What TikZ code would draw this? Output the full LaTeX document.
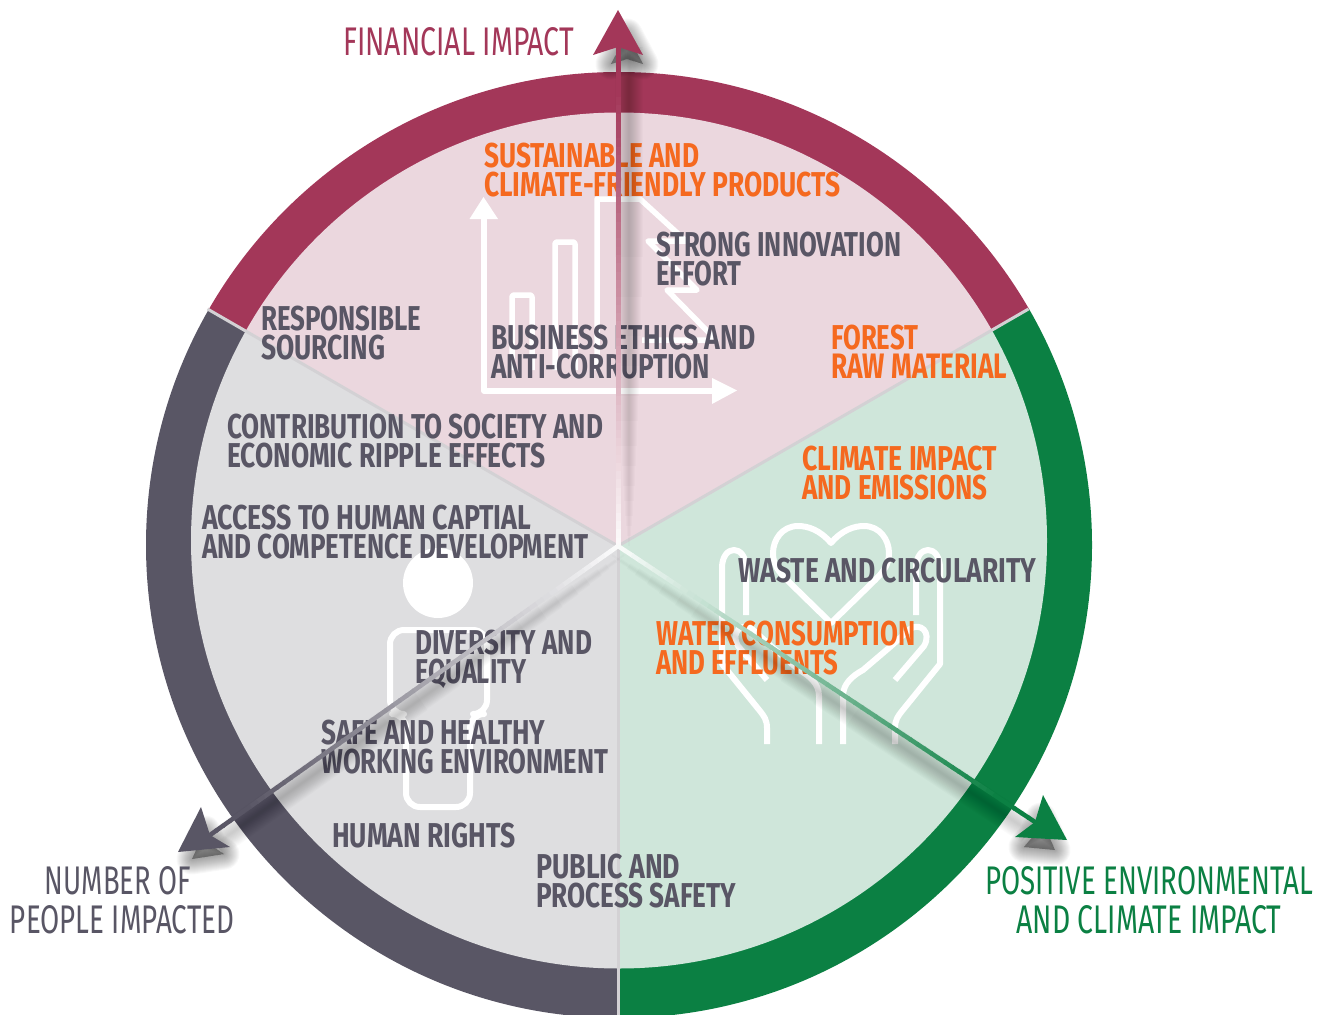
\documentclass[tikz,border=0pt]{standalone}
\usepackage{graphicx}
\usepackage{fontspec}
\setmainfont{Fira Sans}
\usetikzlibrary{calc}
\definecolor{cred}{RGB}{163,55,89}
\definecolor{cgrey}{RGB}{89,86,101}
\definecolor{cgreen}{RGB}{11,128,67}
\definecolor{lred}{RGB}{235,215,222}
\definecolor{lgrey}{RGB}{222,222,224}
\definecolor{lgreen}{RGB}{207,230,218}
\definecolor{cdiv}{RGB}{211,209,212}
\definecolor{corange}{RGB}{245,105,31}
\newcommand{\tl}[2]{\resizebox{#1pt}{24.5pt}{\bfseries #2}}
\newcommand{\ttl}[2]{\resizebox{#1pt}{28pt}{#2}}
\tikzset{
  x=1pt,y=1pt,
  divider/.style={draw=cdiv,line width=3pt},
  iconline/.style={draw=white,line width=5.5pt,line join=round,line cap=butt},
  handline/.style={iconline,line width=6pt},
  dark/.style={anchor=north west,inner sep=0pt,align=left,text=cgrey,font=\fontsize{30}{28.5}\selectfont},
  hot/.style={dark,text=corange},
  title/.style={inner sep=0pt,font=\fontsize{30}{39}\selectfont},
}
% shaded axis: white at the centre, full colour further out
\newcommand{\axisline}[4]{%
  \foreach \i in {0,...,59}{%
    \pgfmathsetmacro\ta{\i/60}\pgfmathsetmacro\tb{(\i+1.15)/60}%
    \pgfmathtruncatemacro\p{min(100,\i*1.8+3)}%
    \draw[line width=#4pt,color=#3!\p!white] ($(#1)!\ta!(#2)$) -- ($(#1)!\tb!(#2)$);}}
% soft shadow of an axis, tapering towards the centre
\newcommand{\axisshadow}[4]{%
  \foreach \w/\s in {2/0.0,4/0.02,6/0.04,8/0.06,10/0.09,12/0.12,14/0.16,16/0.2,18/0.25,20/0.3,22/0.36,24/0.42,26/0.5,28/0.58}{%
    \draw[black,opacity=0.017,line width=\w pt] ($(#1)!\s!(#2)+(#3,#4)$) -- ($(#2)+(#3,#4)$);}}
\newcommand{\headshadow}[3]{%
  \foreach \w in {1,3,5,7,9,11,13,15,17,19,21,23,25,27,29,31}{%
    \filldraw[black,opacity=0.028,line width=\w pt,line join=round,shift={(#2,#3)}] #1;}}
\begin{document}
\begin{tikzpicture}
\useasboundingbox (0,0) rectangle (1329,-1014);
\clip (0,0) rectangle (1329,-1014);
\coordinate (O) at (618,-546);
\coordinate (Ro) at (619,-545);
\coordinate (Ri) at (619,-540.5);
% rings (outer disc, three colours)
\begin{scope}
\clip (Ro) circle (473);
\fill[cred] (O) -- ($(O)+(30:700)$) -- ($(O)+(30:700)+(0,700)$) -- ($(O)+(150:700)+(0,700)$) -- ($(O)+(150:700)$) -- cycle;
\fill[cgreen] (O) -- ($(O)+(30:700)$) -- ($(O)+(700,-900)$) -- ($(O)+(0,-900)$) -- cycle;
\fill[cgrey] (O) -- ($(O)+(150:700)$) -- ($(O)+(-700,-900)$) -- ($(O)+(0,-900)$) -- cycle;
\end{scope}
% sectors (inner disc, pale tints)
\begin{scope}
\clip (Ri) circle (428);
\fill[lred] (O) -- ($(O)+(30:700)$) -- ($(O)+(30:700)+(0,700)$) -- ($(O)+(150:700)+(0,700)$) -- ($(O)+(150:700)$) -- cycle;
\fill[lgreen] (O) -- ($(O)+(30:700)$) -- ($(O)+(700,-900)$) -- ($(O)+(0,-900)$) -- cycle;
\fill[lgrey] (O) -- ($(O)+(150:700)$) -- ($(O)+(-700,-900)$) -- ($(O)+(0,-900)$) -- cycle;
\end{scope}
% dividers
\coordinate (d1) at ($(O)+(30:474)$);
\coordinate (d2) at ($(O)+(150:474)$);
\coordinate (d3) at ($(O)+(270:474)$);
\draw[divider] (O) -- (d1);
\draw[divider] (O) -- (d2);
\draw[divider] (O) -- (d3);
% chart icon
\draw[iconline] (484,-215) -- (484,-391) -- (715,-391);
\fill[white] (483.5,-197) -- (498,-219) -- (469.5,-219) -- cycle;
\fill[white] (737,-390.5) -- (712,-378) -- (712,-404) -- cycle;
\draw[iconline,rounded corners=2pt] (512,-370) -- (512,-295) -- (532,-295) -- (532,-370);
\draw[iconline,rounded corners=2pt] (555,-370) -- (555,-242) -- (575,-242) -- (575,-370);
\draw[iconline] (597,-370) -- (597,-199) -- (640,-199) -- (686,-241) -- (648,-241) -- (697,-290) -- (667,-290) -- (716,-340) -- (642,-340);
% person icon
\fill[white] (438,-583) circle (35);
\draw[handline,rounded corners=14pt] (438,-630) -- (390,-630) -- (390,-714) -- (406,-714) -- (406,-807) -- (470,-807) -- (470,-714) -- (487,-714) -- (487,-630) -- cycle;
% heart in hands icon
\draw[handline] (831,-543) .. controls (820,-530) and (808,-526) .. (798,-526) .. controls (782,-526) and (773,-540) .. (773,-553) .. controls (773,-565) and (779,-572) .. (787,-580) -- (831,-623) -- (875,-580) .. controls (883,-572) and (889,-565) .. (889,-553) .. controls (889,-540) and (880,-526) .. (864,-526) .. controls (854,-526) and (842,-530) .. (831,-543) -- cycle;
\foreach \mx/\sg in {0/1,1662/-1}{
  \begin{scope}[xshift=\mx pt,xscale=\sg]
  \draw[handline] (767,-744) -- (767,-728) .. controls (767,-720) and (764,-716) .. (760,-711) -- (722,-664) -- (722,-568) .. controls (722,-544) and (746,-544) .. (746,-568) -- (746,-615);
  \draw[handline] (819,-744) -- (819,-696) .. controls (819,-684) and (810,-676) .. (799,-670) -- (772,-647) -- (752,-629) .. controls (742,-622) and (730,-632) .. (738,-646) -- (767,-680);
  \end{scope}
}
% labels
\node[hot] (t1) at (484,-143) {\tl{215}{SUSTAINABLE AND}\\\tl{356}{CLIMATE-FRIENDLY PRODUCTS}};
\node[dark] (t2) at (656,-232) {\tl{245}{STRONG INNOVATION}\\\tl{85}{EFFORT}};
\node[dark] (t3) at (261,-306) {\tl{160}{RESPONSIBLE}\\\tl{124}{SOURCING}};
\node[dark] (t4) at (491,-325) {\tl{264}{BUSINESS ETHICS AND}\\\tl{219}{ANTI-CORRUPTION}};
\node[hot] (t5) at (831,-325) {\tl{87}{FOREST}\\\tl{176}{RAW MATERIAL}};
\node[dark] (t6) at (227,-414) {\tl{376}{CONTRIBUTION TO SOCIETY AND}\\\tl{318}{ECONOMIC RIPPLE EFFECTS}};
\node[hot] (t7) at (802,-446) {\tl{195}{CLIMATE IMPACT}\\\tl{185}{AND EMISSIONS}};
\node[dark] (t8) at (202,-505) {\tl{329}{ACCESS TO HUMAN CAPTIAL}\\\tl{386}{AND COMPETENCE DEVELOPMENT}};
\node[dark] (t9) at (738,-558) {\tl{298}{WASTE AND CIRCULARITY}};
\node[hot] (t10) at (656,-621) {\tl{259}{WATER CONSUMPTION}\\\tl{182}{AND EFFLUENTS}};
\node[dark] (t11) at (415,-630) {\tl{177}{DIVERSITY AND}\\\tl{111}{EQUALITY}};
\node[dark] (t12) at (321,-720) {\tl{224}{SAFE AND HEALTHY}\\\tl{287}{WORKING ENVIRONMENT}};
\node[dark] (t13) at (332,-823) {\tl{183}{HUMAN RIGHTS}};
\node[dark] (t14) at (536,-854) {\tl{144}{PUBLIC AND}\\\tl{200}{PROCESS SAFETY}};
% axes
\coordinate (ntop) at (618,-47);
\coordinate (ngreen) at (1035,-822);
\coordinate (ngrey) at (210,-835);
\axisshadow{O}{ntop}{11}{0}
\axisshadow{O}{ngreen}{-6}{-9}
\axisshadow{O}{ngrey}{6}{-9}
\headshadow{(618,-22) -- (634,-52) -- (618,-47) -- (602,-52) -- cycle}{9}{-12}
\headshadow{(1055,-838) -- (1024,-835) -- (1035,-822) -- (1041,-806) -- cycle}{0}{-12}
\headshadow{(190,-848) -- (203,-820) -- (210,-835) -- (222,-843) -- cycle}{2}{-11}
\axisline{O}{ntop}{cred}{5}
\axisline{O}{ngreen}{cgreen}{4.5}
\axisline{O}{ngrey}{cgrey}{4.5}
\fill[cred] (618,-10) -- (643,-55) -- (ntop) -- (593,-55) -- cycle;
\fill[cgreen] (1067,-840) -- (1015,-837) -- (ngreen) -- (1043,-795) -- cycle;
\fill[cgrey] (178,-852) -- (201,-807) -- (ngrey) -- (230,-847) -- cycle;
% axis titles
\node[title,text=cred,anchor=north west] (a1) at (343,-27) {\ttl{231}{FINANCIAL IMPACT}};
\node[title,text=cgrey,align=center,anchor=north] (a2) at (122,-866) {\ttl{146}{NUMBER OF}\hspace*{8pt}\\\ttl{224}{PEOPLE IMPACTED}};
\node[title,text=cgreen,align=center,anchor=north] (a3) at (1149,-866) {\ttl{328}{POSITIVE ENVIRONMENTAL}\\\ttl{265}{AND CLIMATE IMPACT}};
\end{tikzpicture}
\end{document}
